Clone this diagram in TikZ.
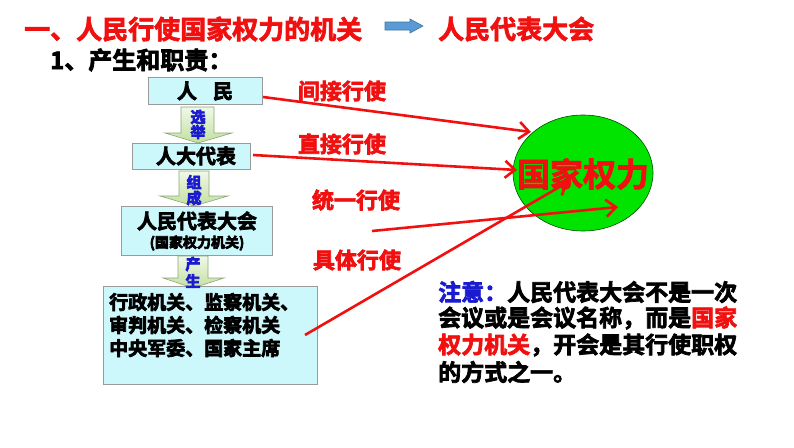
\documentclass[tikz,border=0pt]{standalone}
\usepackage{fontspec}
\setmainfont{Noto Sans CJK SC}[BoldFont={Noto Sans CJK SC Bold}]
\usetikzlibrary{arrows.meta,shapes.geometric}
\newcommand{\heavytxt}[1]{\special{pdf:literal direct 2 Tr 0.7 w}#1\special{pdf:literal direct 0 Tr}}
\definecolor{boxfill}{HTML}{CCF8FC}
\definecolor{boxline}{HTML}{9A9A9A}
\definecolor{titlered}{HTML}{F01010}
\definecolor{notblue}{HTML}{1A1AD0}
\definecolor{barrow}{HTML}{5B9BD5}
\definecolor{barrowline}{HTML}{41719C}
\definecolor{garrowtop}{HTML}{F0F8E8}
\definecolor{garrowbot}{HTML}{C2E0A0}
\definecolor{garrowline}{HTML}{8CA678}
\definecolor{ballgreen}{HTML}{00E400}
\tikzset{
  flowbox/.style={draw=boxline, fill=boxfill, line width=0.8pt, inner sep=0pt},
  boxtext/.style={inner sep=0pt, font=\fontsize{20}{24}\selectfont\bfseries},
  listtext/.style={inner sep=0pt, anchor=west, font=\fontsize{19}{22}\selectfont\bfseries},
  redlabel/.style={inner sep=0pt, text=titlered, font=\fontsize{22}{26}\selectfont\bfseries},
  arrowlabel/.style={inner sep=0pt, text=notblue, font=\fontsize{15}{16}\selectfont\bfseries},
  notetext/.style={inner sep=0pt, anchor=west, font=\fontsize{23}{27}\selectfont\bfseries},
  blockarrow/.style={draw=garrowline, line width=0.6pt, top color=garrowtop, bottom color=garrowbot},
  redarrow/.style={draw=titlered, line width=2.6pt, -{Straight Barb[length=10pt,width=17pt,line width=2.6pt]}}
}
\begin{document}
\begin{tikzpicture}[x=1pt,y=-1pt]
\useasboundingbox (0,0) rectangle (794,447);

% title
\node[inner sep=0pt, anchor=west, text=titlered, font=\fontsize{26}{30}\selectfont\bfseries] (title) at (24,29) {\heavytxt{一、人民行使国家权力的机关}};
\draw[fill=barrow, draw=barrowline, line width=0.6pt] (385,22) -- (410,22) -- (410,19) -- (423,26) -- (410,33) -- (410,30) -- (385,30) -- cycle;
\node[inner sep=0pt, anchor=west, text=titlered, font=\fontsize{26}{30}\selectfont\bfseries] (npc) at (438,29) {\heavytxt{人民代表大会}};
\node[inner sep=0pt, anchor=west, font=\fontsize{24}{28}\selectfont\bfseries] (sub) at (50,60) {\heavytxt{1、产生和职责：}};

% boxes
\node[flowbox, minimum width=114pt, minimum height=27pt] (people) at (205,90.5) {};
\node[boxtext] (peopletxt) at (205,91) {\heavytxt{人\hspace{16pt}民}};
\node[flowbox, minimum width=118pt, minimum height=26pt] (deputy) at (191,156) {};
\node[boxtext] (deputytxt) at (196,156) {\heavytxt{人大代表}};
\node[flowbox, minimum width=151pt, minimum height=49pt] (congress) at (196.5,230.5) {};
\node[boxtext] (congresstxt) at (197,221) {\heavytxt{人民代表大会}};
\node[inner sep=0pt, font=\fontsize{14}{16}\selectfont\bfseries] (congresssub) at (197,243) {\heavytxt{(国家权力机关)}};
\node[flowbox, minimum width=214pt, minimum height=98pt] (organs) at (210,335) {};
\node[listtext] (org1) at (109,302) {\heavytxt{行政机关、监察机关、}};
\node[listtext] (org2) at (109,325) {\heavytxt{审判机关、检察机关}};
\node[listtext] (org3) at (109,348) {\heavytxt{中央军委、国家主席}};

% block arrows
\draw[blockarrow] (181,107) -- (214,107) -- (214,133) -- (232,133) -- (198,143) -- (165,133) -- (181,133) -- cycle;
\node[arrowlabel] (elect1) at (198,117) {\heavytxt{选}};
\node[arrowlabel] (elect2) at (198,132) {\heavytxt{举}};
\draw[blockarrow] (179,171) -- (209,171) -- (209,196) -- (228,196) -- (194,206) -- (160,196) -- (179,196) -- cycle;
\node[arrowlabel] (form1) at (194,182) {\heavytxt{组}};
\node[arrowlabel] (form2) at (194,198) {\heavytxt{成}};
\draw[blockarrow] (178,256) -- (208,256) -- (208,278) -- (224,278) -- (193,288) -- (163,278) -- (178,278) -- cycle;
\node[arrowlabel] (prod1) at (193,264) {\heavytxt{产}};
\node[arrowlabel] (prod2) at (193,281) {\heavytxt{生}};

% state power
\node[draw=black!70!green, line width=0.6pt, fill=ballgreen, shape=ellipse, minimum width=140pt, minimum height=116pt, inner sep=0pt] (power) at (583,173) {};
\node[inner sep=0pt, text=titlered, font=\fontsize{33}{36}\selectfont\bfseries] (powertxt) at (583,174) {\heavytxt{国家权力}};

% red arrows
\coordinate (s1) at (263,97);
\coordinate (t1) at (531,132);
\coordinate (s2) at (253,155);
\coordinate (t2) at (517,170);
\coordinate (s3) at (372,231);
\coordinate (t3) at (618,207);
\coordinate (s4) at (305,335);
\coordinate (t4) at (568,182);
\draw[redarrow] (s1) -- (t1);
\draw[redarrow] (s2) -- (t2);
\draw[redarrow] (s3) -- (t3);
\draw[redarrow] (s4) -- (t4);
\node[redlabel] (l1) at (342,91) {\heavytxt{间接行使}};
\node[redlabel] (l2) at (342,144) {\heavytxt{直接行使}};
\node[redlabel] (l3) at (356,200) {\heavytxt{统一行使}};
\node[redlabel] (l4) at (357,260) {\heavytxt{具体行使}};

% note
\node[notetext] (note1) at (438,292) {\heavytxt{{\color{notblue}注意：}人民代表大会不是一次}};
\node[notetext] (note2) at (438,318) {\heavytxt{会议或是会议名称，而是{\color{titlered}国家}}};
\node[notetext] (note3) at (438,345) {\heavytxt{{\color{titlered}权力机关}，开会是其行使职权}};
\node[notetext] (note4) at (438,372) {\heavytxt{的方式之一。}};
\end{tikzpicture}
\end{document}
